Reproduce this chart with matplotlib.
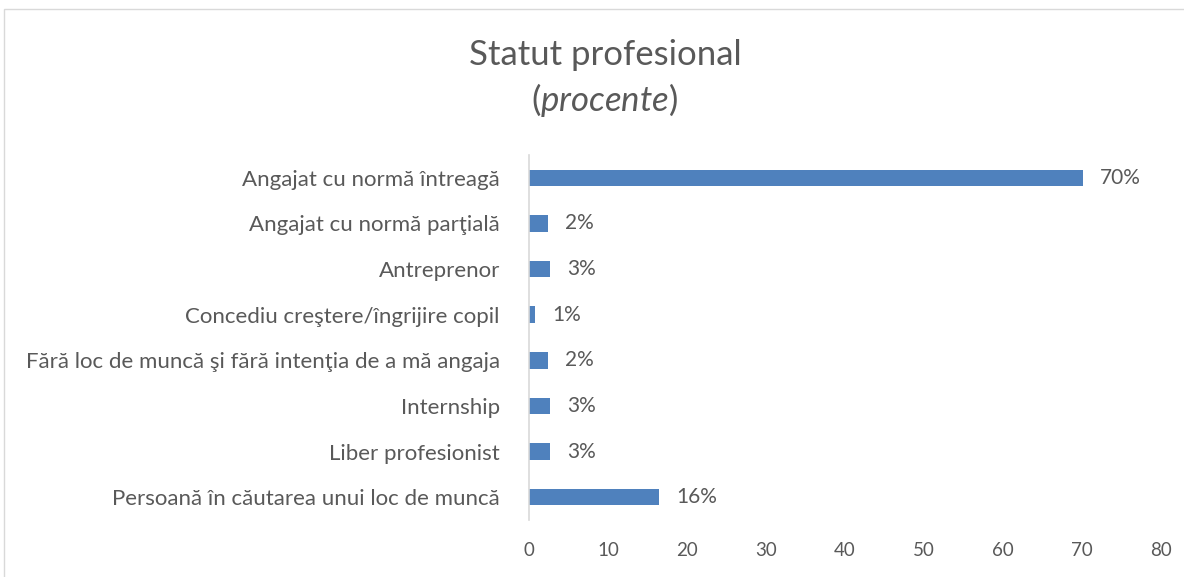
import matplotlib
matplotlib.use("Agg")
import matplotlib.pyplot as plt
from matplotlib.patches import Rectangle

categories = [
    "Angajat cu normă întreagă",
    "Angajat cu normă parţială",
    "Antreprenor",
    "Concediu creştere/îngrijire copil",
    "Fără loc de muncă şi fără intenţia de a mă angaja",
    "Internship",
    "Liber profesionist",
    "Persoană în căutarea unui loc de muncă",
]
values = [70.1, 2.4, 2.7, 0.8, 2.4, 2.7, 2.7, 16.5]
labels = ["70%", "2%", "3%", "1%", "2%", "3%", "3%", "16%"]
xticks = [0, 10, 20, 30, 40, 50, 60, 70, 80]

plt.rcParams["font.family"] = ["Lato", "DejaVu Sans"]
plt.rcParams["mathtext.fontset"] = "custom"
plt.rcParams["mathtext.rm"] = "Lato"
plt.rcParams["mathtext.it"] = "Lato:italic"

txt = "#595959"
fig = plt.figure(figsize=(11.84, 5.77), dpi=100)
fig.patches.append(Rectangle((4 / 1184, -0.01), 1.02, 1 - 9 / 577 + 0.01,
                             transform=fig.transFigure, fill=False,
                             edgecolor="#D9D9D9", linewidth=1))
ax = fig.add_axes([529 / 1184, 57 / 577, (1161 - 529) / 1184, (520 - 155) / 577])

ypos = list(range(len(categories)))
ax.barh(ypos, values, height=0.36, color="#4F81BD")
for y, v, l in zip(ypos, values, labels):
    ax.annotate(l, (v, y), xytext=(12, 0), textcoords="offset points",
                ha="left", va="center", fontsize=15, color=txt)

ax.set_xlim(0, 80)
ax.set_ylim(len(categories) - 0.5, -0.5)
ax.set_yticks(ypos)
ax.set_yticklabels(categories, fontsize=16, color=txt)
ax.set_xticks(xticks)
ax.set_xticklabels([str(t) for t in xticks], fontsize=13.5, color=txt)
ax.tick_params(axis="both", length=0)
ax.tick_params(axis="y", pad=21)
ax.tick_params(axis="x", pad=16)
for s in ["top", "right", "bottom"]:
    ax.spines[s].set_visible(False)
ax.spines["left"].set_color("#D9D9D9")
ax.spines["left"].set_linewidth(1.2)

fig.text(605 / 1184, 1 - 55 / 577, "Statut profesional", ha="center", va="center",
         fontsize=25, color=txt)
fig.text(605 / 1184, 1 - 100 / 577, r"($\mathit{procente}$)", ha="center", va="center",
         fontsize=25, color=txt)

fig.savefig("out.png", dpi=100)
